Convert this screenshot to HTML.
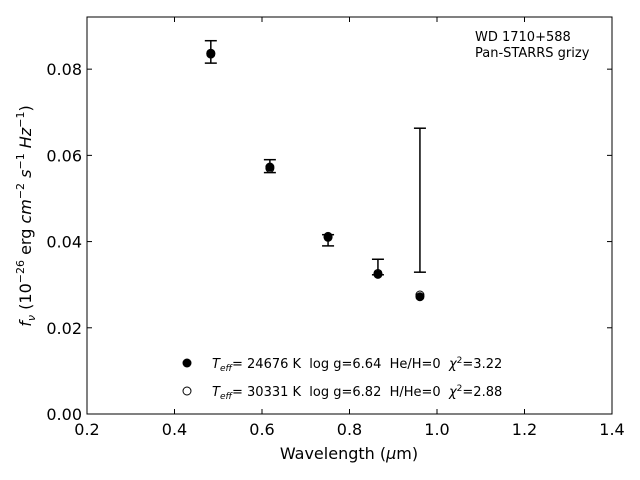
<!DOCTYPE html>
<html><head><meta charset="utf-8"><style>
body{margin:0;background:#fff}
svg{display:block;font-family:"DejaVu Sans","Liberation Sans",sans-serif}
text{white-space:pre}
</style></head><body>
<svg id="chart" width="640" height="480">
</svg>
<script>
const xTicks=[0.2,0.4,0.6,0.8,1.0,1.2,1.4];
const yTicks=[0.00,0.02,0.04,0.06,0.08];
const wavelengths=[0.483,0.618,0.751,0.865,0.961];
const obsFlux=[0.0840,0.0575,0.0403,0.0341,0.0496];
const obsErr=[0.0026,0.0015,0.0013,0.0018,0.0167];
const modelHe=[0.0837,0.0573,0.0410,0.0324,0.0272];
const modelH=[0.0835,0.0570,0.0412,0.0326,0.0276];
const L=87,R=612,T=17,B=414;
const xmin=0.2,xmax=1.4,ymin=0,ymax=0.0921;
const X=v=>L+(v-xmin)/(xmax-xmin)*(R-L);
const Y=v=>B-(v-ymin)/(ymax-ymin)*(B-T);
const svg=document.getElementById('chart');
const NS='http://www.w3.org/2000/svg';
function mk(tag,attrs,parent){const e=document.createElementNS(NS,tag);for(const k in attrs)e.setAttribute(k,attrs[k]);(parent||svg).appendChild(e);return e;}
const frame=mk('rect',{x:L,y:T,width:R-L,height:B-T,fill:'none',stroke:'#000','stroke-width':1});


xTicks.forEach(v=>{
  const x=X(v);
  const t1=mk('line',{x1:x,x2:x,y1:B,y2:B-5,stroke:'#000'});
  
  
  const t2=mk('line',{x1:x,x2:x,y1:T,y2:T+5,stroke:'#000'});
  
  
  const tx=mk('text',{x:x,y:B+21,'text-anchor':'middle','font-size':16});
  tx.textContent=v.toFixed(1);
  
  
});
yTicks.forEach(v=>{
  const y=Y(v);
  const t1=mk('line',{x1:L,x2:L+5,y1:y,y2:y,stroke:'#000'});
  
  
  const t2=mk('line',{x1:R,x2:R-5,y1:y,y2:y,stroke:'#000'});
  
  
  const tx=mk('text',{x:L-5,y:y+6,'text-anchor':'end','font-size':16});
  tx.textContent=v.toFixed(2);
  
  
});
wavelengths.forEach((w,i)=>{
  const x=X(w),y1=Y(obsFlux[i]+obsErr[i]),y2=Y(obsFlux[i]-obsErr[i]);
  const g=mk('g',{stroke:'#000','stroke-width':1.5});
  
  
  mk('line',{x1:x,x2:x,y1:y1,y2:y2},g);
  mk('line',{x1:x-6,x2:x+6,y1:y1,y2:y1},g);
  mk('line',{x1:x-6,x2:x+6,y1:y2,y2:y2},g);
});
wavelengths.forEach((w,i)=>{
  const c=mk('circle',{cx:X(w),cy:Y(modelH[i]),r:4,fill:'#fff',stroke:'#000','stroke-width':1});
  
  
});
wavelengths.forEach((w,i)=>{
  const c=mk('circle',{cx:X(w),cy:Y(modelHe[i]),r:4.5,fill:'#000'});
  
  
});
</script>
<svg style="position:absolute;left:0;top:0" width="640" height="480">
  <g>
  <text x="475" y="41" font-size="13">WD 1710+588</text>
  <text x="475" y="57" font-size="13">Pan-STARRS grizy</text>
  <g>
    <circle cx="187" cy="363" r="4.5" fill="#000"/>
    <text x="212" y="368" font-size="13"><tspan font-style="italic">T</tspan><tspan font-style="italic" font-size="9" dy="3">eff</tspan><tspan dy="-3">= 24676 K  log g=6.64  He/H=0  </tspan><tspan font-style="italic">χ</tspan><tspan font-size="9" dy="-5">2</tspan><tspan dy="5">=3.22</tspan></text>
    <circle cx="187" cy="391" r="4" fill="#fff" stroke="#000"/>
    <text x="212" y="396" font-size="13"><tspan font-style="italic">T</tspan><tspan font-style="italic" font-size="9" dy="3">eff</tspan><tspan dy="-3">= 30331 K  log g=6.82  H/He=0  </tspan><tspan font-style="italic">χ</tspan><tspan font-size="9" dy="-5">2</tspan><tspan dy="5">=2.88</tspan></text>
  </g>
  <text x="349" y="459" font-size="16" text-anchor="middle">Wavelength (<tspan font-style="italic">μ</tspan>m)</text>
  <text transform="translate(31,216) rotate(-90)" font-size="16" text-anchor="middle"><tspan font-style="italic">f</tspan><tspan font-style="italic" font-size="11" dy="4">ν</tspan><tspan dy="-4"> (10</tspan><tspan font-size="11" dy="-7">−26</tspan><tspan dy="7"> erg </tspan><tspan font-style="italic">cm</tspan><tspan font-size="11" dy="-7">−2</tspan><tspan dy="7"> </tspan><tspan font-style="italic">s</tspan><tspan font-size="11" dy="-7">−1</tspan><tspan dy="7"> </tspan><tspan font-style="italic">Hz</tspan><tspan font-size="11" dy="-7">−1</tspan><tspan dy="7">)</tspan></text>
  </g>
</svg>
</body></html>
